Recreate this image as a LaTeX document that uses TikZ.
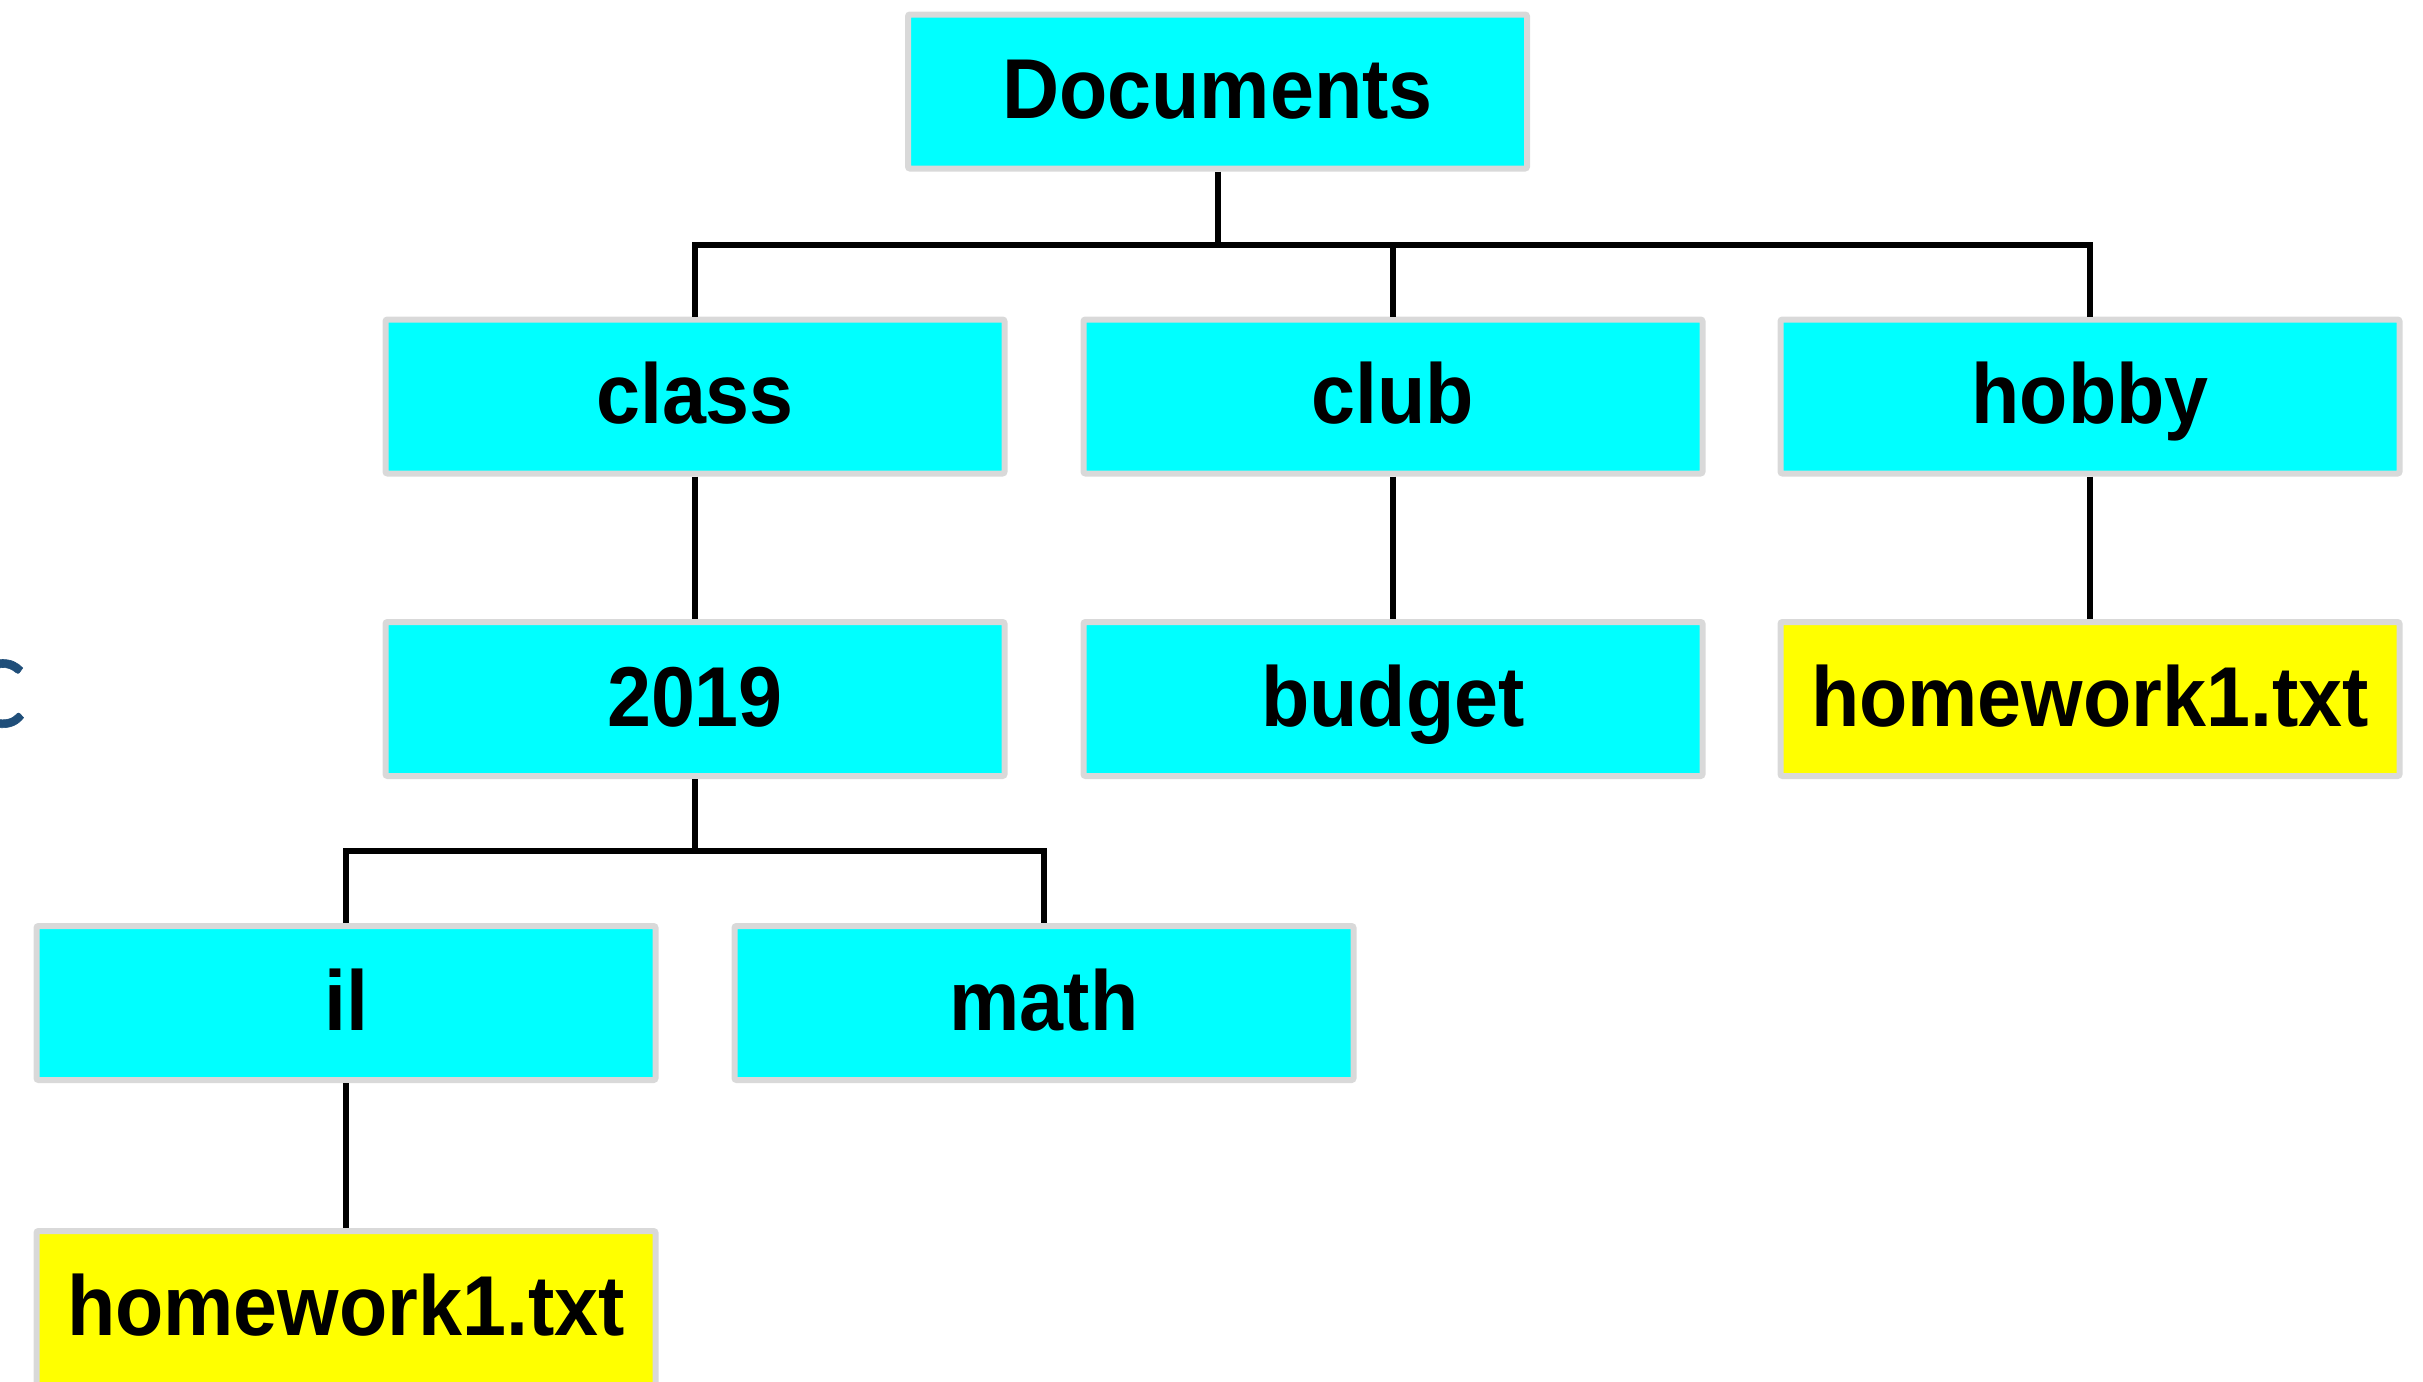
\documentclass[tikz,border=0pt]{standalone}
\usepackage{fontspec}
\setmainfont{Liberation Sans}[FakeStretch=0.93]
\newfontfamily\cfont{Carlito}[FakeBold=0.6]
\definecolor{boxcyan}{HTML}{00FFFF}
\definecolor{boxyellow}{HTML}{FFFF00}
\definecolor{boxrim}{HTML}{D9D9D9}
\definecolor{titleblue}{HTML}{1F4E79}
\tikzset{
  dirbox/.style={draw=boxrim, line width=3pt, fill=boxcyan, rounded corners=1pt,
    minimum width=309.5pt, minimum height=77pt, inner sep=0pt,
    text height=30pt, text depth=3pt,
    font=\fontsize{42.5pt}{50pt}\selectfont\bfseries},
  filebox/.style={dirbox, fill=boxyellow},
  conn/.style={draw=black, line width=3pt}
}
\begin{document}
\begin{tikzpicture}[x=0.5pt, y=-0.5pt]
\useasboundingbox (0,0) rectangle (2423,1381);
\node[dirbox] (docs) at (1217.5,91.5) {Documents};
\node[dirbox] (class) at (695,396.5) {class};
\node[dirbox] (club) at (1393,396.5) {club};
\node[dirbox] (hobby) at (2090,396.5) {hobby};
\node[dirbox] (y2019) at (695,699) {2019};
\node[dirbox] (budget) at (1393,699) {budget};
\node[filebox] (hwa) at (2090,699) {homework1.txt};
\node[dirbox] (il) at (346,1003) {il};
\node[dirbox] (math) at (1044,1003) {math};
\node[filebox] (hwb) at (346,1308) {homework1.txt};
\coordinate (busa) at (0,244.5);
\coordinate (busb) at (0,850.5);
\draw[conn] (docs.south) -- (docs.south |- busa);
\draw[conn] (class.north) |- (busa -| hobby.north) -- (hobby.north);
\draw[conn] (club.north) -- (club.north |- busa);
\draw[conn] (class.south) -- (y2019.north);
\draw[conn] (club.south) -- (budget.north);
\draw[conn] (hobby.south) -- (hwa.north);
\draw[conn] (y2019.south) -- (y2019.south |- busb);
\draw[conn] (il.north) |- (busb -| math.north) -- (math.north);
\draw[conn] (il.south) -- (hwb.north);
\node[anchor=base east, inner sep=0pt, text=titleblue,
  font=\cfont\fontsize{52pt}{60pt}\selectfont] (cfrag) at (26,727) {C};
\end{tikzpicture}
\end{document}
